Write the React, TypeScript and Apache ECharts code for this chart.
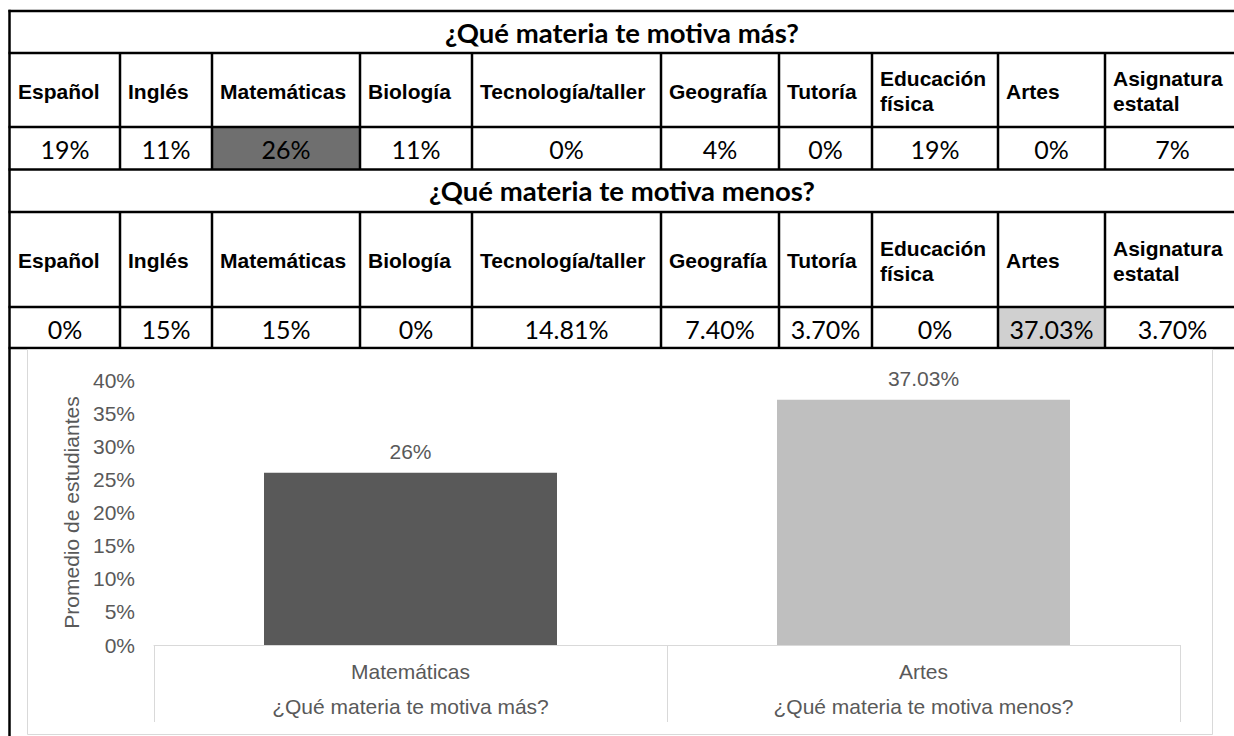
import React, { useEffect, useRef } from "react";
import * as echarts from "echarts";

// ---------- data ----------
const subjects = [
  "Español",
  "Inglés",
  "Matemáticas",
  "Biología",
  "Tecnología/taller",
  "Geografía",
  "Tutoría",
  "Educación\nfísica",
  "Artes",
  "Asignatura\nestatal",
];
const masValues = [19, 11, 26, 11, 0, 4, 0, 19, 0, 7];
const menosValues = [0, 15, 15, 0, 14.81, 7.4, 3.7, 0, 37.03, 3.7];
const questionTitles = ["¿Qué materia te motiva más?", "¿Qué materia te motiva menos?"];
const yAxisTitle = "Promedio de estudiantes";
const yMin = 0;
const yMax = 40;
const yStep = 5;

// ---------- layout / style ----------
const colX = [10, 120, 212, 360, 472, 661, 779, 872, 998, 1105, 1240];
const rowY = [11, 53, 127, 169.5, 212, 307, 348];
const LINE = 2.5;
const HEADER_FONT = "'Liberation Sans', Arial, sans-serif";
const CAL_FONT = "Lato, 'Open Sans', sans-serif";
const CHART_FONT = "'Liberation Sans', Arial, sans-serif";
const GRAY_TEXT = "#595959";
const barColors = ["#595959", "#bfbfbf"];
const cellShade = ["#6f6f6f", "#d0d0d0"];

const fmt = (v: number) => (Number.isInteger(v) ? `${v}%` : `${v.toFixed(2)}%`);
const argMax = (arr: number[]) => arr.reduce((bi, v, i) => (v > arr[bi] ? i : bi), 0);

function buildTable() {
  const g: any[] = [];
  const rows = [masValues, menosValues];
  rows.forEach((vals, r) => {
    const top = r === 0 ? 0 : 3;
    const yTitleTop = rowY[top];
    const yHeadTop = rowY[top + 1];
    const yValTop = rowY[top + 2];
    const yValBot = rowY[top + 3];
    const hi = argMax(vals);
    g.push({
      type: "rect",
      shape: { x: colX[hi], y: yValTop, width: colX[hi + 1] - colX[hi], height: yValBot - yValTop },
      style: { fill: cellShade[r] },
      silent: true,
    });
    g.push({
      type: "text",
      x: (colX[0] + 1234) / 2,
      y: (yTitleTop + yHeadTop) / 2,
      style: {
        text: questionTitles[r],
        fontFamily: CAL_FONT,
        fontWeight: "bold",
        fontSize: 27.5,
        fill: "#000",
        align: "center",
        verticalAlign: "middle",
      },
    });
    subjects.forEach((s, i) => {
      g.push({
        type: "text",
        x: colX[i] + 8,
        y: (yHeadTop + yValTop) / 2 + 1,
        style: {
          text: s,
          fontFamily: HEADER_FONT,
          fontWeight: "bold",
          fontSize: 21,
          lineHeight: 25,
          fill: "#000",
          align: "left",
          verticalAlign: "middle",
        },
      });
      g.push({
        type: "text",
        x: (colX[i] + colX[i + 1]) / 2,
        y: (yValTop + yValBot) / 2 + 1,
        style: {
          text: fmt(vals[i]),
          fontFamily: CAL_FONT,
          fontSize: 25,
          fill: "#000",
          align: "center",
          verticalAlign: "middle",
        },
      });
    });
    for (let i = 1; i < colX.length - 1; i++) {
      g.push({
        type: "line",
        shape: { x1: colX[i], y1: yHeadTop, x2: colX[i], y2: yValBot },
        style: { stroke: "#000", lineWidth: LINE },
      });
    }
  });
  rowY.forEach((y) => {
    g.push({
      type: "line",
      shape: { x1: 8.5, y1: y, x2: 1240, y2: y },
      style: { stroke: "#000", lineWidth: LINE },
    });
  });
  g.push({
    type: "line",
    shape: { x1: 9.5, y1: 9.8, x2: 9.5, y2: 740 },
    style: { stroke: "#000", lineWidth: LINE },
  });
  g.push({
    type: "rect",
    shape: { x: 27.5, y: 349.5, width: 1185, height: 385 },
    style: { fill: "none", stroke: "#d9d9d9", lineWidth: 1 },
    silent: true,
  });
  return g;
}

export default function App() {
  const ref = useRef<HTMLDivElement>(null);
  useEffect(() => {
    if (!ref.current) return;
    const chart = echarts.init(ref.current, null, { renderer: "svg" });
    const iMas = argMax(masValues);
    const iMenos = argMax(menosValues);
    const barCats = [subjects[iMas], subjects[iMenos]].map((s) => s.replace("\n", " "));
    const barVals = [masValues[iMas], menosValues[iMenos]];

    chart.setOption({
      animation: false,
      backgroundColor: "#fff",
      graphic: buildTable(),
      grid: { left: 154, right: 54, top: 380, bottom: 91 },
      xAxis: {
        type: "category",
        data: barCats,
        axisLine: { show: true, lineStyle: { color: "#d9d9d9", width: 1 } },
        axisTick: { show: true, length: 77, alignWithLabel: false, interval: 0, lineStyle: { color: "#d9d9d9" } },
        axisLabel: {
          interval: 0,
          margin: 9,
          formatter: (v: string, idx: number) => `{a|${v}}\n{b|${questionTitles[idx]}}`,
          rich: {
            a: { fontFamily: CHART_FONT, fontSize: 21, color: GRAY_TEXT, lineHeight: 35 },
            b: { fontFamily: CHART_FONT, fontSize: 21, color: GRAY_TEXT, lineHeight: 35 },
          },
        },
      },
      yAxis: {
        type: "value",
        min: yMin,
        max: yMax,
        interval: yStep,
        name: yAxisTitle,
        nameLocation: "middle",
        nameGap: 70,
        nameRotate: 90,
        nameTextStyle: { fontFamily: CHART_FONT, fontSize: 21, color: GRAY_TEXT },
        axisLine: { show: false },
        axisTick: { show: false },
        splitLine: { show: false },
        axisLabel: {
          formatter: "{value}%",
          fontFamily: CHART_FONT,
          fontSize: 21,
          color: GRAY_TEXT,
          margin: 19,
        },
      },
      series: [
        {
          type: "bar",
          barWidth: 293,
          data: barVals.map((v, i) => ({ value: v, itemStyle: { color: barColors[i] } })),
          label: {
            show: true,
            position: "top",
            distance: 11,
            formatter: (p: any) => fmt(p.value),
            fontFamily: CHART_FONT,
            fontSize: 21,
            color: GRAY_TEXT,
          },
        },
      ],
    });
    return () => chart.dispose();
  }, []);
  return (
    <div
      ref={ref}
      style={{ position: "fixed", left: 0, top: 0, width: 1234, height: 736 }}
    />
  );
}
